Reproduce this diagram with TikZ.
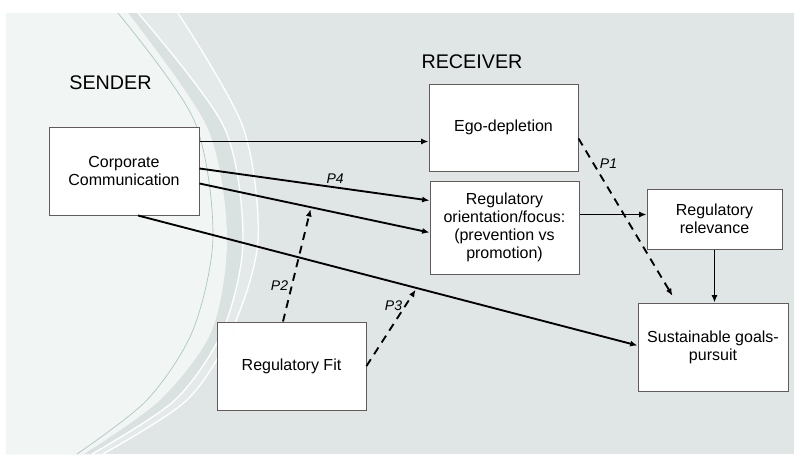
\documentclass[tikz,border=0pt]{standalone}
\usepackage{fontspec}
\setmainfont{Liberation Sans}
\usetikzlibrary{arrows.meta,calc}

\definecolor{bggray}{RGB}{223,230,229}
\definecolor{bglight}{RGB}{241,245,244}
\definecolor{bgband}{RGB}{217,226,225}
\definecolor{bgstrip}{RGB}{228,234,233}
\definecolor{curveteal}{RGB}{168,198,194}
\definecolor{boxline}{RGB}{100,90,90}

\tikzset{every picture/.style={line width=0.75pt}}
\tikzset{
  box/.style={draw=boxline, fill=white, inner sep=2pt, align=center, font=\fontsize{12}{13.5}\selectfont},
  conn/.style={line width=1.4pt, -{Latex[length=5.5pt,width=4.5pt]}},
  dconn/.style={conn, dash pattern=on 6pt off 4.5pt, shorten >=1.5pt},
  plabel/.style={font=\fontsize{10.5}{12}\selectfont\itshape, inner sep=2pt},
  sidelabel/.style={font=\fontsize{14.8}{17}\selectfont, inner sep=0pt}
}

\begin{document}
\begin{tikzpicture}[x=0.75pt,y=0.75pt,yscale=-1]
		\useasboundingbox (0,0) rectangle (794,455);
		
		%Shape: Background
		\fill[bggray] (6,13) rectangle (794,454);
		\fill[bgstrip] (6,13) -- plot[smooth] coordinates {(178,13) (243,127) (258,240) (232,330) (187,400) (103,454)} -- (6,454) -- cycle;
		\fill[bgband] (6,13) -- plot[smooth] coordinates {(138,13) (224,127) (243,240) (223,330) (175,400) (92,454)} -- (6,454) -- cycle;
		\fill[bglight] (6,13) -- plot[smooth] coordinates {(128,13) (207,127) (227,235) (212,330) (160,400) (84,454)} -- (6,454) -- cycle;
		%Curves
		\draw[white, line width=1pt] plot[smooth] coordinates {(178,13) (243,127) (258,240) (232,330) (187,400) (103,454)};
		\draw[white, line width=1pt] plot[smooth] coordinates {(138,13) (224,127) (243,240) (223,330) (175,400) (92,454)};
		\draw[curveteal, line width=0.5pt] plot[smooth] coordinates {(118,13) (194,120) (213,235) (193,330) (147,400) (77,454)};
		
		% Text Node
		\node (sender) at (110.5,83) [sidelabel] {SENDER};
		% Text Node
		\node (receiver) at (472,62) [sidelabel] {RECEIVER};
		
		%Shape: Rectangle
		\node (cc) at (124,171) [box, minimum width=112.5pt, minimum height=66pt] {Corporate\\Communication};
		%Shape: Rectangle
		\node (ego) at (503.5,127.5) [box, minimum width=111.75pt, minimum height=65.25pt] {Ego-depletion};
		%Shape: Rectangle
		\node (ro) at (504.5,227.5) [box, minimum width=111.75pt, minimum height=69.75pt] {Regulatory\\orientation/focus:\\(prevention vs\\promotion)};
		%Shape: Rectangle
		\node (rr) at (714.5,219) [box, minimum width=101.25pt, minimum height=45pt] {Regulatory\\relevance};
		%Shape: Rectangle
		\node (sg) at (713,347) [box, minimum width=112.5pt, minimum height=66pt] {Sustainable goals-\\pursuit};
		%Shape: Rectangle
		\node (rf) at (291.5,366) [box, minimum width=111.75pt, minimum height=66pt] {Regulatory Fit};
		
		%Straight Lines
		\draw[conn] ($(cc.north east)+(0,15)$) -- ($(ego.north west)+(0,58)$);
		\draw[conn] ($(cc.north east)+(0,42)$) -- node[plabel, above, pos=.59] {P4} ($(ro.north west)+(0,20)$);
		\draw[conn] ($(cc.north east)+(0,57)$) -- coordinate[pos=.485] (p2end) ($(ro.north west)+(0,52)$);
		\draw[conn] ($(cc.south)+(14,0)$) -- coordinate[pos=.558] (p3end) ($(sg.north west)+(0,43)$);
		\draw[conn] ($(ro.north east)+(0,34)$) -- ($(rr.north west)+(0,26)$);
		\draw[conn] (rr.south) -- (rr.south |- sg.north);
		%Dashed Lines
		\draw[dconn] ($(ego.north east)+(0,55)$) -- node[plabel, right, pos=.16, xshift=2pt] {P1} ($(sg.north west)+(36,-5)$);
		\draw[dconn] ($(rf.north)+(-8.5,0)$) -- node[plabel, left, pos=.31] {P2} (p2end);
		\draw[dconn] (rf.east) -- node[plabel, left, pos=.78] {P3} (p3end);
\end{tikzpicture}
\end{document}
